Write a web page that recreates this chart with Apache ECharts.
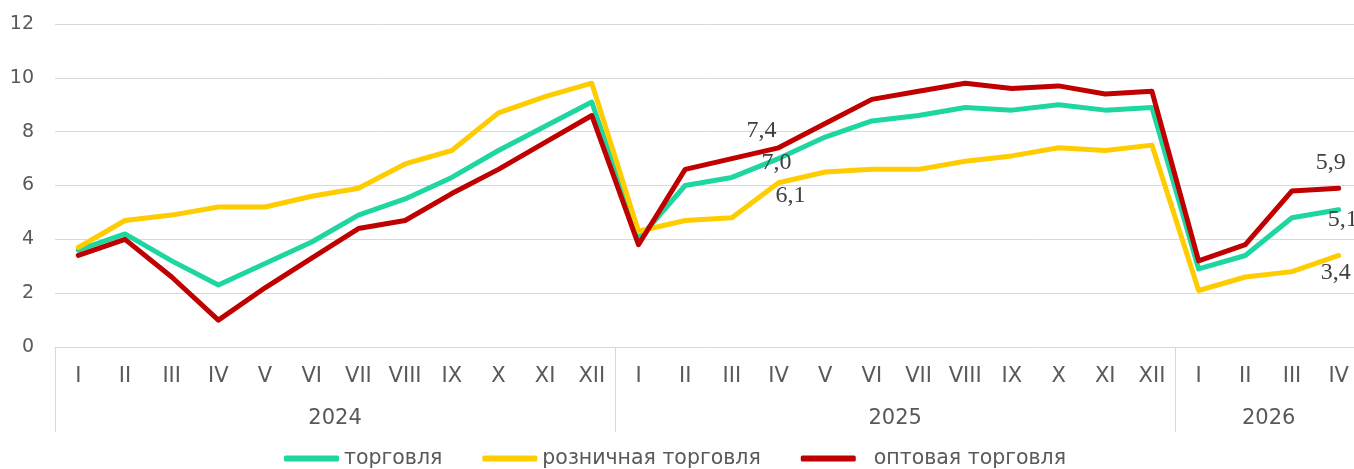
<!DOCTYPE html>
<html>
<head>
<meta charset="utf-8">
<script src="https://cdn.jsdelivr.net/npm/echarts@6/dist/echarts.min.js"></script>
<style>
html,body{margin:0;padding:0;background:#fff;overflow:hidden;width:1354px;height:469px;}
#chart{width:1362px;height:469px;}
</style>
</head>
<body>
<div id="chart"></div>
<script>
var months = ['I','II','III','IV','V','VI','VII','VIII','IX','X','XI','XII',
              'I','II','III','IV','V','VI','VII','VIII','IX','X','XI','XII',
              'I','II','III','IV'];
var years = ['2024','2025','2026'];
var yearLengths = [12, 12, 4];
var yTicks = [0, 2, 4, 6, 8, 10, 12];

var seriesNames = ['торговля', 'розничная торговля', 'оптовая торговля'];
var trade = [3.6,4.2,3.2,2.3,3.1,3.9,4.9,5.5,6.3,7.3,8.2,9.1,
             4.0,6.0,6.3,7.0,7.8,8.4,8.6,8.9,8.8,9.0,8.8,8.9,
             2.9,3.4,4.8,5.1];
var retail = [3.7,4.7,4.9,5.2,5.2,5.6,5.9,6.8,7.3,8.7,9.3,9.8,
              4.3,4.7,4.8,6.1,6.5,6.6,6.6,6.9,7.1,7.4,7.3,7.5,
              2.1,2.6,2.8,3.4];
var wholesale = [3.4,4.0,2.6,1.0,2.2,3.3,4.4,4.7,5.7,6.6,7.6,8.6,
                 3.8,6.6,7.0,7.4,8.3,9.2,9.5,9.8,9.6,9.7,9.4,9.5,
                 3.2,3.8,5.8,5.9];
var labelledIdx = [15, 27];

var colors = ['#1DD6A0', '#FFCC00', '#C00000'];
var labelOffsets = [
  [[-2, 4], [4, 10]],
  [[12, 13], [-3, 17]],
  [[-17, -17], [-8, -25]]
];

var bounds = [0], centres = [];
yearLengths.forEach(function (n) {
  var start = bounds[bounds.length - 1];
  centres.push(start + n / 2);
  bounds.push(start + n);
});

function buildData(arr, si) {
  return arr.map(function (v, i) {
    var k = labelledIdx.indexOf(i);
    if (k < 0) return { value: v };
    return {
      value: v,
      label: {
        show: true,
        position: 'inside',
        offset: labelOffsets[si][k],
        formatter: function (p) { return p.value.toFixed(1).replace('.', ','); },
        fontFamily: 'Liberation Serif',
        fontSize: 24,
        color: '#404040'
      }
    };
  });
}

var allData = [trade, retail, wholesale];
var series = allData.map(function (arr, si) {
  return {
    name: seriesNames[si],
    type: 'line',
    xAxisIndex: 0,
    data: buildData(arr, si),
    symbol: 'circle',
    symbolSize: 0.1,
    showSymbol: true,
    color: colors[si],
    lineStyle: { width: 5, color: colors[si], cap: 'round', join: 'round' },
    itemStyle: { color: colors[si] },
    emphasis: { disabled: true },
    animation: false,
    z: 2 + si
  };
});

var chart = echarts.init(document.getElementById('chart'), null, { renderer: 'canvas' });
chart.setOption({
  backgroundColor: '#ffffff',
  animation: false,
  grid: { left: 55, top: 24, right: 0, bottom: 122, containLabel: false },
  legend: {
    data: seriesNames,
    left: 284,
    top: 448,
    padding: 0,
    itemWidth: 55,
    itemHeight: 6,
    itemGap: 40,
    icon: 'roundRect',
    formatter: function (name) { return name === seriesNames[2] ? '  ' + name : name; },
    textStyle: { fontFamily: 'DejaVu Sans', fontSize: 20.5, color: '#595959' }
  },
  xAxis: [
    {
      type: 'category',
      data: months,
      boundaryGap: true,
      axisLine: { show: true, lineStyle: { color: '#d9d9d9', width: 1 } },
      axisTick: { show: false },
      axisLabel: { interval: 0, margin: 19, fontFamily: 'DejaVu Sans', fontSize: 21, color: '#595959' },
      splitLine: { show: false }
    },
    {
      type: 'value',
      position: 'bottom',
      min: 0,
      max: bounds[bounds.length - 1],
      axisLine: { show: false },
      splitLine: { show: false },
      axisTick: {
        show: true,
        customValues: bounds,
        length: 85,
        lineStyle: { color: '#d9d9d9', width: 1 }
      },
      axisLabel: {
        show: true,
        customValues: centres,
        margin: 61,
        fontFamily: 'DejaVu Sans',
        fontSize: 21,
        color: '#595959',
        formatter: function (v) {
          var i = centres.indexOf(v);
          return i >= 0 ? years[i] : '';
        }
      }
    }
  ],
  yAxis: {
    type: 'value',
    min: yTicks[0],
    max: yTicks[yTicks.length - 1],
    interval: yTicks[1] - yTicks[0],
    axisLine: { show: false },
    axisTick: { show: false },
    axisLabel: { margin: 21, fontFamily: 'DejaVu Sans', fontSize: 19, color: '#595959' },
    splitLine: { show: true, lineStyle: { color: '#d9d9d9', width: 1 } }
  },
  series: series
});
</script>
</body>
</html>
